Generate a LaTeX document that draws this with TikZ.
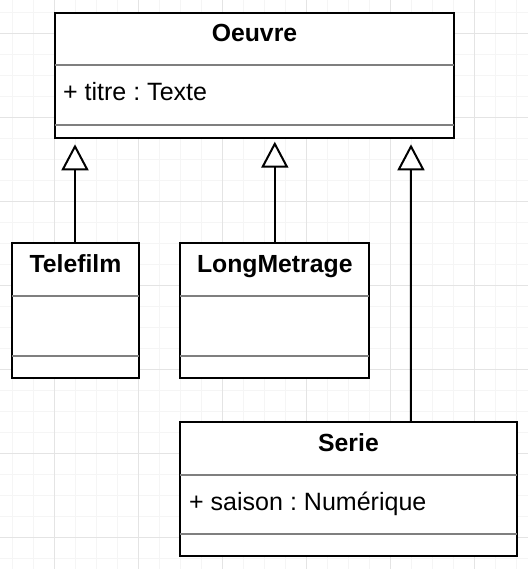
\documentclass[tikz,border=0pt]{standalone}
\usepackage{fontspec}
\setmainfont{Liberation Sans}
\frenchspacing
\usetikzlibrary{calc, positioning, arrows.meta}
\newcommand{\pxu}{0.02cm}
\definecolor{xgrid}{HTML}{F5F5F5}
\definecolor{xgridmajor}{HTML}{E4E4E4}
\definecolor{xsep}{HTML}{7F7F7F}
\tikzset{
  umlbox/.style 2 args={draw=black, line width=0.04cm, fill=white, inner sep=0pt, minimum width={#1*\pxu}, minimum height={#2*\pxu}},
  umlsep/.style={draw=xsep, line width=0.04cm, shorten <=0.02cm, shorten >=0.02cm},
  umltitle/.style={font=\fontsize{14.1pt}{16pt}\selectfont\bfseries, inner sep=0pt, anchor=base},
  umlattr/.style={font=\fontsize{14.25pt}{16pt}\selectfont, inner sep=0pt, anchor=base west},
  inherit/.style={line width=0.04cm, -{Triangle[length=0.52cm, width=0.54cm, fill=white]}},
}
\begin{document}
\begin{tikzpicture}[x=0.02cm, y=-0.02cm]
  \useasboundingbox (0,0) rectangle (528,569);
  \fill[white] (0,0) rectangle (528,569);
  \foreach \g in {0,...,24} {
    \draw[xgrid, line width=0.02cm] ({12.3+21*\g},0) -- ++(0,569);
  }
  \foreach \g in {0,...,26} {
    \draw[xgrid, line width=0.02cm] (0,{12.3+21*\g}) -- ++(528,0);
  }
  \foreach \g in {2,6,...,22} {
    \draw[xgridmajor, line width=0.02cm] ({12.3+21*\g},0) -- ++(0,569);
  }
  \foreach \g in {1,5,...,25} {
    \draw[xgridmajor, line width=0.02cm] (0,{12.3+21*\g}) -- ++(528,0);
  }

  \node[umlbox={399}{125}] (oeuvre) at (254.5,75.5) {};
  \node[umlbox={126.4}{134.4}] (telefilm) at (75.5,310.5) {};
  \node[umlbox={189}{134.4}] (longmetrage) at (274.8,310.5) {};
  \node[umlbox={336.4}{133.7}] (serie) at (348.5,489.2) {};

  \draw[umlsep] (oeuvre.west |- 0,65) -- (oeuvre.east |- 0,65);
  \draw[umlsep] (oeuvre.west |- 0,125) -- (oeuvre.east |- 0,125);
  \draw[umlsep] (telefilm.west |- 0,296) -- (telefilm.east |- 0,296);
  \draw[umlsep] (telefilm.west |- 0,356) -- (telefilm.east |- 0,356);
  \draw[umlsep] (longmetrage.west |- 0,296) -- (longmetrage.east |- 0,296);
  \draw[umlsep] (longmetrage.west |- 0,356) -- (longmetrage.east |- 0,356);
  \draw[umlsep] (serie.west |- 0,475) -- (serie.east |- 0,475);
  \draw[umlsep] (serie.west |- 0,534) -- (serie.east |- 0,534);

  \node[umltitle] (oeuvretitle) at (oeuvre.north |- 0,41.7) {Oeuvre};
  \node[umlattr] (oeuvreattr) at (62.7,100.7) {+ titre : Texte};
  \node[umltitle] (telefilmtitle) at (telefilm.north |- 0,272.7) {Telefilm};
  \node[umltitle] (longmetragetitle) at (longmetrage.north |- 0,272.7) {LongMetrage};
  \node[umltitle] (serietitle) at (serie.north |- 0,451.7) {Serie};
  \node[umlattr] (serieattr) at (188.8,510) {+ saison : Numérique};

  \draw[inherit] ($(telefilm.north)+(-0.5,0)$) -- ($(telefilm.north |- oeuvre.south)+(-0.5,5.3)$);
  \draw[inherit] (longmetrage.north) -- ($(longmetrage.north |- oeuvre.south)+(0,2.7)$);
  \draw[inherit] ($(serie.north west)+(231.5,0)$) -- ($(oeuvre.south west)+(357,5.3)$);
\end{tikzpicture}
\end{document}
